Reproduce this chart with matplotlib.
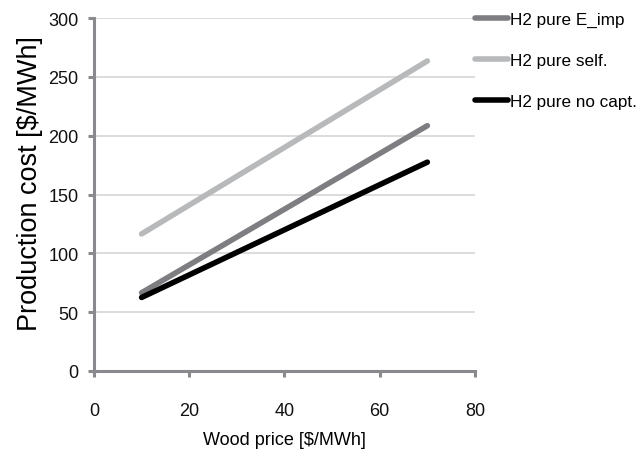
import matplotlib.pyplot as plt
from matplotlib.patches import Rectangle

plt.rcParams['font.family'] = ['Liberation Sans', 'DejaVu Sans']

# Data
wood_price = [10, 70]
e_imp = [66.5, 208.5]
self_pw = [116.5, 263.5]
no_capt = [62.5, 177.5]

fig = plt.figure(figsize=(6.41, 4.64), dpi=100)
ax = fig.add_axes([0.1466, 0.1983, 0.5944, 0.7607])

ax.plot(wood_price, e_imp, color='#7e7e82', lw=4, solid_capstyle='round', label='H2 pure E_imp')
ax.plot(wood_price, self_pw, color='#b7b9ba', lw=4, solid_capstyle='round', label='H2 pure self.')
ax.plot(wood_price, no_capt, color='black', lw=4, solid_capstyle='round', label='H2 pure no capt.')

ax.set_xlim(0, 80)
ax.set_ylim(0, 300)
ax.set_xticks([0, 20, 40, 60, 80])
ax.set_yticks([0, 50, 100, 150, 200, 250, 300])
ax.yaxis.grid(True, color='#d9d9d9', lw=1.3)
ax.set_axisbelow(True)

for s in ['top', 'right']:
    ax.spines[s].set_visible(False)
for s in ['left', 'bottom']:
    ax.spines[s].set_color('#8a8a8e')
    ax.spines[s].set_linewidth(2.2)
ax.tick_params(axis='both', colors='#8a8a8e', width=2.2, length=4, labelsize=13, labelcolor='#111111')
ax.tick_params(axis='x', pad=18)
ax.tick_params(axis='y', pad=7)

ax.set_xlabel('Wood price [$/MWh]', fontsize=13, labelpad=9)

# y label gets cut off at the top like in the original
yl = fig.text(0.047, 0.605, 'Production cost [$/MWh]', rotation=90, fontsize=19.5,
              ha='center', va='center')
clip = Rectangle((0, 0), 1, 0.957, transform=fig.transFigure)
yl.set_clip_path(clip)

fig.legend(loc='upper left', bbox_to_anchor=(0.728, 0.99), frameon=False, fontsize=12.3,
           handlelength=1.9, handletextpad=0.12, labelspacing=1.5, borderaxespad=0.1)

fig.savefig('out.png', dpi=100)
